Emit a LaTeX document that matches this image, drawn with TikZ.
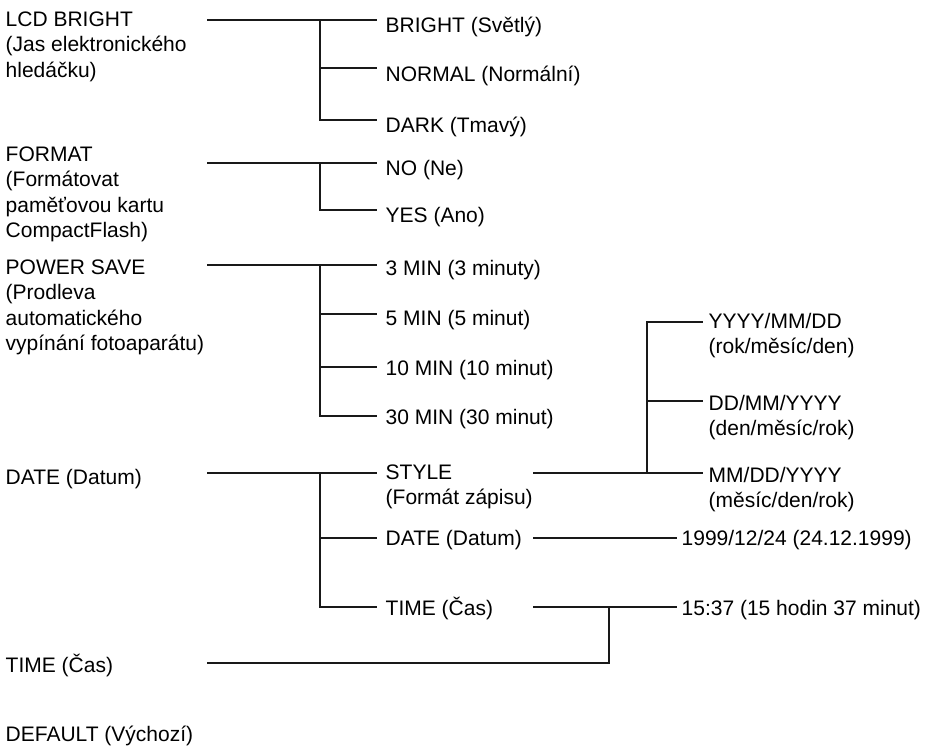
\documentclass[tikz,border=0pt]{standalone}
\usepackage{fontspec}
\setmainfont{Liberation Sans}
\begin{document}
\begin{tikzpicture}[x=1pt,y=-1pt,
  lbl/.style={anchor=base west, inner sep=0pt, align=left,
              font=\fontsize{21}{25.3}\selectfont, text=black},
  wire/.style={draw=black!90, line width=1.2pt}]
\useasboundingbox (0,0) rectangle (932,746);

% ---------- left column (multi-line nodes are placed by their last baseline) ----------
\node[lbl] (lcd) at (5.5,77.1) {LCD BRIGHT\\(Jas elektronického\\hledáčku)};
\node[lbl] (fmt) at (5.5,237.4) {FORMAT\\(Formátovat\\paměťovou kartu\\CompactFlash)};
\node[lbl] (pws) at (5.5,350.4) {POWER SAVE\\(Prodleva\\automatického\\vypínání fotoaparátu)};
\node[lbl] (dat) at (5.5,484.5) {DATE (Datum)};
\node[lbl] (tim) at (5.5,672.5) {TIME (Čas)};
\node[lbl] (def) at (5.5,741.5) {DEFAULT (Výchozí)};

% ---------- middle column ----------
\node[lbl] (bright) at (385.5,33)   {BRIGHT (Světlý)};
\node[lbl] (normal) at (385.5,81.5) {NORMAL (Normální)};
\node[lbl] (dark)   at (385.5,132.5){DARK (Tmavý)};
\node[lbl] (no)     at (385.5,175.5){NO (Ne)};
\node[lbl] (yes)    at (385.5,222.5){YES (Ano)};
\node[lbl] (m3)     at (385.5,276)  {3 MIN (3 minuty)};
\node[lbl] (m5)     at (385.5,325)  {5 MIN (5 minut)};
\node[lbl] (m10)    at (385.5,375.5){10 MIN (10 minut)};
\node[lbl] (m30)    at (385.5,424.5){30 MIN (30 minut)};
\node[lbl] (style)  at (385.5,504.8){STYLE\\(Formát zápisu)};
\node[lbl] (date2)  at (385.5,545.5){DATE (Datum)};
\node[lbl] (time2)  at (385.5,615.5){TIME (Čas)};

% ---------- right column ----------
\node[lbl] (ymd) at (708.5,353.3) {YYYY/MM/DD\\(rok/měsíc/den)};
\node[lbl] (dmy) at (708.5,435.3) {DD/MM/YYYY\\(den/měsíc/rok)};
\node[lbl] (mdy) at (708.5,507.3) {MM/DD/YYYY\\(měsíc/den/rok)};
\node[lbl] (dval) at (681.5,545.5) {1999/12/24 (24.12.1999)};
\node[lbl] (tval) at (681.5,615.5) {15:37 (15 hodin 37 minut)};

% ---------- junction coordinates ----------
% LCD BRIGHT
\coordinate (a0) at (207,20);  \coordinate (a1) at (320,20);
\coordinate (a2) at (320,68);  \coordinate (a3) at (320,120);
\coordinate (ae1) at (377,20); \coordinate (ae2) at (377,68); \coordinate (ae3) at (377,120);
% FORMAT
\coordinate (b0) at (207,163); \coordinate (b1) at (320,163); \coordinate (b2) at (320,210);
\coordinate (be1) at (377,163); \coordinate (be2) at (377,210);
% POWER SAVE
\coordinate (c0) at (207,265); \coordinate (c1) at (320,265); \coordinate (c2) at (320,314);
\coordinate (c3) at (320,367); \coordinate (c4) at (320,416);
\coordinate (ce1) at (377,265); \coordinate (ce2) at (377,314);
\coordinate (ce3) at (377,367); \coordinate (ce4) at (377,416);
% DATE
\coordinate (d0) at (207,473); \coordinate (d1) at (320,473); \coordinate (d2) at (320,538);
\coordinate (d3) at (320,607);
\coordinate (de1) at (377,473); \coordinate (de2) at (377,538); \coordinate (de3) at (377,607);
% STYLE
\coordinate (s0) at (533,473); \coordinate (s1) at (647,473); \coordinate (s2) at (647,401);
\coordinate (s3) at (647,322);
\coordinate (se1) at (703,473); \coordinate (se2) at (703,401); \coordinate (se3) at (703,322);
% DATE value
\coordinate (v0) at (533,538); \coordinate (v1) at (677,538);
% TIME value
\coordinate (t0) at (533,607); \coordinate (t1) at (609,607); \coordinate (t2) at (677,607);
\coordinate (t3) at (609,663); \coordinate (t4) at (207,663);

% ---------- connectors ----------
\draw[wire] (a0) -- (ae1);
\draw[wire] (a1) -- (a3) -- (ae3);
\draw[wire] (a2) -- (ae2);

\draw[wire] (b0) -- (be1);
\draw[wire] (b1) -- (b2) -- (be2);

\draw[wire] (c0) -- (ce1);
\draw[wire] (c1) -- (c4) -- (ce4);
\draw[wire] (c2) -- (ce2);
\draw[wire] (c3) -- (ce3);

\draw[wire] (d0) -- (de1);
\draw[wire] (d1) -- (d3) -- (de3);
\draw[wire] (d2) -- (de2);

\draw[wire] (s0) -- (se1);
\draw[wire] (s1) -- (s3) -- (se3);
\draw[wire] (s2) -- (se2);

\draw[wire] (v0) -- (v1);

\draw[wire] (t0) -- (t2);
\draw[wire] (t1) -- (t3) -- (t4);
\end{tikzpicture}
\end{document}
